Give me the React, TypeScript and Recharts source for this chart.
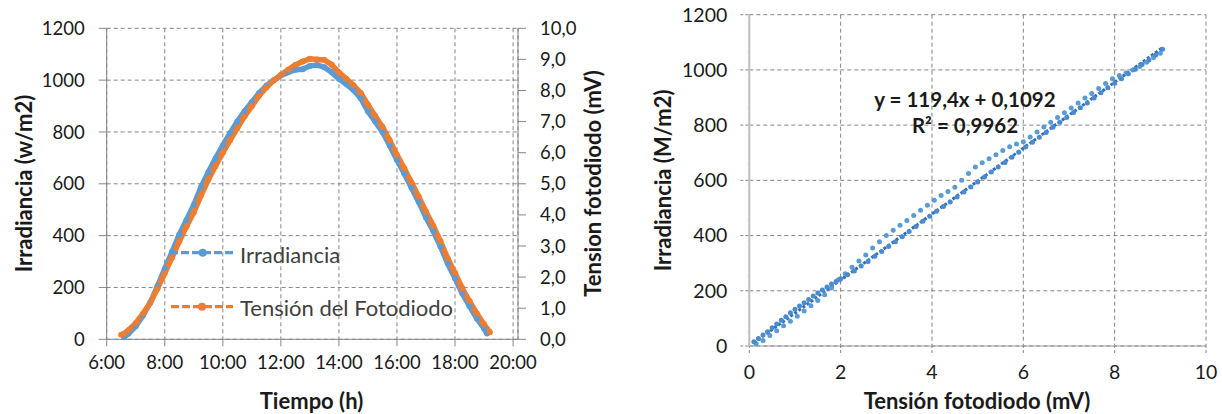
import React from 'react';
import { ComposedChart, Line, XAxis, YAxis, CartesianGrid, Scatter } from 'recharts';

// ---------- Left chart data ----------
const irradianceTime = [6.6, 6.75, 7, 7.25, 7.5, 7.75, 8, 8.25, 8.5, 8.75, 9, 9.25, 9.5, 9.75, 10, 10.25, 10.5, 10.75, 11, 11.25, 11.5, 11.75, 12, 12.25, 12.5, 12.75, 13, 13.25, 13.5, 13.75, 14, 14.25, 14.5, 14.75, 15, 15.25, 15.5, 15.75, 16, 16.25, 16.5, 16.75, 17, 17.25, 17.5, 17.75, 18, 18.25, 18.5, 18.75, 19, 19.1];
const irradianceValues = [8, 22, 50, 92, 142, 205, 272, 337, 404, 460, 518, 587, 645, 698, 748, 795, 840, 880, 915, 950, 978, 1000, 1018, 1030, 1040, 1042, 1055, 1058, 1050, 1030, 1005, 985, 962, 930, 880, 840, 800, 748, 692, 640, 585, 530, 470, 418, 358, 292, 235, 177, 128, 80, 42, 22];

const tensionTime = [6.5, 6.6, 6.75, 7, 7.25, 7.5, 7.75, 8, 8.25, 8.5, 8.75, 9, 9.25, 9.5, 9.75, 10, 10.25, 10.5, 10.75, 11, 11.25, 11.5, 11.75, 12, 12.25, 12.5, 12.75, 13, 13.25, 13.5, 13.75, 14, 14.25, 14.5, 14.75, 15, 15.25, 15.5, 15.75, 16, 16.25, 16.5, 16.75, 17, 17.25, 17.5, 17.75, 18, 18.25, 18.5, 18.75, 19, 19.2];
const tensionValues = [0.15, 0.18, 0.29, 0.52, 0.83, 1.17, 1.63, 2.13, 2.63, 3.15, 3.63, 4.08, 4.63, 5.13, 5.57, 6.0, 6.4, 6.79, 7.17, 7.5, 7.83, 8.1, 8.32, 8.5, 8.67, 8.82, 8.93, 9.02, 9.0, 8.98, 8.83, 8.58, 8.38, 8.17, 7.92, 7.54, 7.18, 6.83, 6.4, 5.93, 5.5, 5.04, 4.58, 4.1, 3.65, 3.15, 2.6, 2.13, 1.64, 1.23, 0.83, 0.48, 0.23];

const timeTicks = [6, 8, 10, 12, 14, 16, 18, 20];
const irradianceTicks = [0, 200, 400, 600, 800, 1000, 1200];
const tensionTicks = [0, 1, 2, 3, 4, 5, 6, 7, 8, 9, 10];

// ---------- Right chart data ----------
const morningX = [0.15, 0.3, 0.45, 0.6, 0.75, 0.9, 1.05, 1.2, 1.35, 1.5, 1.65, 1.8, 1.95, 2.1, 2.25, 2.4, 2.55, 2.7, 2.85, 3.0, 3.15, 3.3, 3.45, 3.6, 3.75, 3.9, 4.05, 4.2, 4.35, 4.5, 4.65, 4.8, 4.95, 5.1, 5.25, 5.4, 5.55, 5.7, 5.85, 6.0, 6.15, 6.3, 6.45, 6.6, 6.75, 6.9, 7.05, 7.2, 7.35, 7.5, 7.65, 7.8, 7.95, 8.1, 8.25, 8.4, 8.55, 8.7, 8.85, 9.0];
const morningY = [8, 20, 38, 55, 73, 90, 108, 127, 146, 165, 186, 210, 240, 262, 285, 308, 330, 355, 378, 400, 419, 437, 455, 473, 492, 510, 528, 545, 560, 575, 600, 625, 648, 664, 678, 693, 708, 722, 732, 740, 757, 775, 793, 810, 828, 845, 862, 880, 898, 915, 933, 951, 968, 980, 990, 1000, 1012, 1028, 1045, 1060];

const afternoonX = [0.1, 0.2, 0.3, 0.4, 0.5, 0.6, 0.7, 0.8, 0.9, 1.0, 1.1, 1.2, 1.3, 1.4, 1.5, 1.6, 1.7, 1.8, 1.9, 2.0, 2.15, 2.3, 2.45, 2.6, 2.75, 2.9, 3.05, 3.2, 3.35, 3.5, 3.65, 3.8, 3.95, 4.1, 4.25, 4.4, 4.55, 4.7, 4.85, 5.0, 5.15, 5.3, 5.45, 5.6, 5.75, 5.9, 6.05, 6.2, 6.35, 6.5, 6.65, 6.8, 6.95, 7.1, 7.25, 7.4, 7.55, 7.7, 7.85, 8.0, 8.15, 8.3, 8.45, 8.6, 8.75, 8.9, 9.05];
const afternoonY = [15, 27, 40, 52, 66, 80, 93, 106, 120, 133, 145, 157, 168, 181, 192, 203, 214, 225, 234, 244, 258, 272, 290, 306, 325, 342, 360, 378, 396, 415, 433, 452, 470, 488, 505, 522, 540, 558, 576, 594, 612, 630, 648, 665, 684, 702, 721, 738, 756, 773, 792, 810, 828, 846, 863, 880, 898, 917, 935, 952, 968, 986, 1002, 1020, 1036, 1054, 1075];

const trendX = [0.1, 9.05];
const trendY = [12, 1081];

const tensionAxisTicks = [0, 2, 4, 6, 8, 10];

const irrData = irradianceTime.map((t, i) => ({ t, v: irradianceValues[i] }));
const tenData = tensionTime.map((t, i) => ({ t, v: tensionValues[i] }));
const morningData = morningX.map((x, i) => ({ x, y: morningY[i] }));
const afternoonData = afternoonX.map((x, i) => ({ x, y: afternoonY[i] }));
const trendData = trendX.map((x, i) => ({ x, y: trendY[i] }));

const FONT = 'Lato, "Open Sans", sans-serif';
const BLUE = '#5B9BD5';
const ORANGE = '#ED7D31';
const GRID = '#858585';

const dot = (color: string, r: number) => (props: any) => (
  <circle cx={props.cx} cy={props.cy} r={r} fill={color} />
);

export default function App() {
  return (
    <div style={{ position: 'absolute', left: 0, top: 0, width: 1222, height: 414, background: '#fff', fontFamily: FONT, overflow: 'hidden' }}>
      <div style={{ position: 'absolute', left: 0, top: 0 }}>
        <ComposedChart width={620} height={414} margin={{ top: 28.3, right: 42, bottom: 44.7, left: 46.7 }}>
          <CartesianGrid yAxisId="left" stroke={GRID} strokeDasharray="4 3" />
          <XAxis
            type="number"
            dataKey="t"
            domain={[6, 20.17]}
            allowDataOverflow
            ticks={timeTicks}
            interval={0}
            tickFormatter={(v: number) => `${v}:00`}
            height={30}
            tickSize={7}
            tickMargin={10}
            axisLine={{ stroke: '#868686' }}
            tickLine={{ stroke: '#868686' }}
            tick={{ fill: '#1a1a1a', fontSize: 18.5, fontFamily: FONT }}
          />
          <YAxis
            yAxisId="left"
            domain={[0, 1200]}
            ticks={irradianceTicks}
            interval={0}
            width={60}
            tickSize={8}
            tickMargin={14}
            axisLine={{ stroke: '#868686' }}
            tickLine={{ stroke: '#868686' }}
            tick={{ fill: '#1a1a1a', fontSize: 18.5, fontFamily: FONT }}
          />
          <YAxis
            yAxisId="right"
            orientation="right"
            domain={[0, 10]}
            ticks={tensionTicks}
            interval={0}
            tickFormatter={(v: number) => v.toFixed(1).replace('.', ',')}
            width={60}
            tickSize={8}
            tickMargin={14}
            axisLine={{ stroke: '#868686' }}
            tickLine={{ stroke: '#868686' }}
            tick={{ fill: '#1a1a1a', fontSize: 18.5, fontFamily: FONT }}
          />
          <Line yAxisId="left" data={irrData} dataKey="v" type="linear" stroke={BLUE} strokeWidth={5.5}
            dot={{ r: 3, fill: BLUE, stroke: 'none' }} isAnimationActive={false} />
          <Line yAxisId="right" data={tenData} dataKey="v" type="linear" stroke={ORANGE} strokeWidth={5.5}
            dot={{ r: 3, fill: ORANGE, stroke: 'none' }} isAnimationActive={false} />
        </ComposedChart>
      </div>

      <div style={{ position: 'absolute', left: 620, top: 0 }}>
        <ComposedChart width={602} height={414} margin={{ top: 14.7, right: 16, bottom: 38, left: 59.3 }}>
          <CartesianGrid stroke={GRID} strokeDasharray="4 3" />
          <XAxis
            type="number"
            dataKey="x"
            domain={[0, 10]}
            ticks={tensionAxisTicks}
            interval={0}
            height={30}
            tickSize={7}
            tickMargin={12}
            axisLine={{ stroke: '#9a9a9a' }}
            tickLine={{ stroke: GRID, strokeDasharray: '3 2' }}
            tick={{ fill: '#1a1a1a', fontSize: 19.5, fontFamily: FONT }}
          />
          <YAxis
            type="number"
            dataKey="y"
            domain={[0, 1200]}
            ticks={irradianceTicks}
            interval={0}
            width={70}
            tickSize={9}
            tickMargin={13}
            axisLine={{ stroke: '#bfbfbf', strokeWidth: 2 }}
            tickLine={{ stroke: GRID, strokeDasharray: '3 2' }}
            tick={{ fill: '#1a1a1a', fontSize: 19.5, fontFamily: FONT }}
          />
          <Scatter data={morningData} dataKey="y" fill={BLUE} shape={dot('#5B9BD5', 2.5)} isAnimationActive={false} />
          <Scatter data={afternoonData} dataKey="y" fill={BLUE} shape={dot('#4a8ad0', 2.5)} isAnimationActive={false} />
          <Line data={trendData} dataKey="y" type="linear" stroke="#2f6db5" strokeWidth={3}
            strokeDasharray="3 2" dot={false} isAnimationActive={false} />
        </ComposedChart>
      </div>

      <svg width={1222} height={414} style={{ position: 'absolute', left: 0, top: 0, pointerEvents: 'none' }}>
        <g fontFamily={FONT} fontWeight={700} fontSize={22} fill="#1a1a1a">
          <text transform="translate(31.5,183.5) rotate(-90)" textAnchor="middle">Irradiancia (w/m2)</text>
          <text transform="translate(601,183.5) rotate(-90)" textAnchor="middle">Tension fotodiodo (mV)</text>
          <text x={311.5} y={409} textAnchor="middle">Tiempo (h)</text>
          <text transform="translate(671,180.4) rotate(-90)" textAnchor="middle">Irradiancia (M/m2)</text>
          <text x={977} y={409} textAnchor="middle">Tensión fotodiodo (mV)</text>
        </g>
        <g fontFamily={FONT} fontWeight={700} fontSize={20.5} fill="#1a1a1a">
          <text x={965} y={107} textAnchor="middle">y = 119,4x + 0,1092</text>
          <text x={965} y={133} textAnchor="middle">R² = 0,9962</text>
        </g>
        <g>
          <line x1={170} x2={235} y1={252.7} y2={252.7} stroke={BLUE} strokeWidth={3.2} strokeDasharray="8 3" />
          <circle cx={202.7} cy={252.7} r={4} fill={BLUE} />
          <text x={240} y={263} fontFamily={FONT} fontSize={22} fill="#404040">Irradiancia</text>
          <line x1={171} x2={233} y1={306.7} y2={306.7} stroke={ORANGE} strokeWidth={3.2} strokeDasharray="8 3" />
          <circle cx={202} cy={306.7} r={4} fill={ORANGE} />
          <text x={240} y={316} fontFamily={FONT} fontSize={22} fill="#404040">Tensión del Fotodiodo</text>
        </g>
      </svg>
    </div>
  );
}
